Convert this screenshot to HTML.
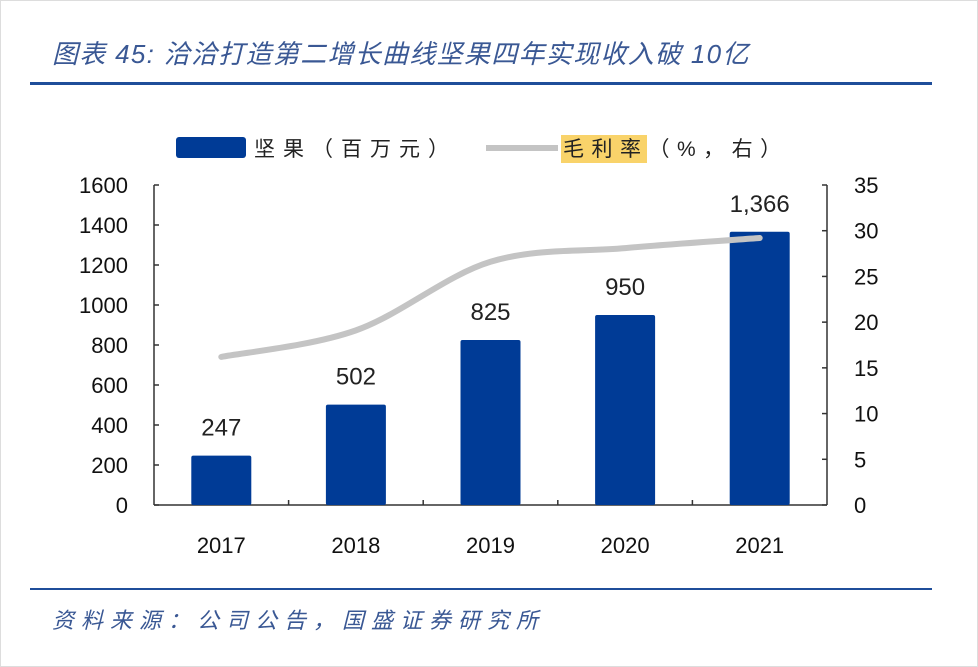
<!DOCTYPE html>
<html><head><meta charset="utf-8"><style>
body{margin:0;background:#fff;}
svg{display:block;font-family:"Liberation Sans","Noto Sans CJK SC",sans-serif;}
</style></head><body>
<svg width="978" height="667" viewBox="0 0 978 667">
<rect x="0.5" y="0.5" width="977" height="666" fill="#fff" stroke="#ddd"/>
<text x="52" y="63" font-size="26" letter-spacing="1.3" font-style="italic" fill="#3a5894">图表 45: 洽洽打造第二增长曲线坚果四年实现收入破 10亿</text>
<rect x="30" y="82" width="902" height="3" fill="#1f4e9a"/>
<g>
<rect x="176" y="137" width="70" height="21" rx="3" fill="#003b96"/>
<text x="254" y="156" font-size="21" letter-spacing="8" fill="#222">坚果（百万元）</text>
<rect x="486" y="145" width="72" height="6" fill="#c4c4c4"/>
<rect x="561" y="135" width="86" height="28" fill="#f9d36a"/>
<text x="563" y="156" font-size="21" letter-spacing="7.5" fill="#222">毛利率（%，右）</text>
</g>
<g id="plot"></g>
<rect x="30" y="588" width="902" height="2" fill="#1f4e9a"/>
<text x="52" y="628" font-size="22" letter-spacing="7" font-style="italic" fill="#3a5894">资料来源：公司公告，国盛证券研究所</text>
</svg>
<script>
const categories=["2017","2018","2019","2020","2021"];
const revenue=[247,502,825,950,1366];
const revenueLabels=["247","502","825","950","1,366"];
const margin=[16.2,19.1,26.6,28.1,29.2];
const leftTicks=[0,200,400,600,800,1000,1200,1400,1600];
const rightTicks=[0,5,10,15,20,25,30,35];
const NS="http://www.w3.org/2000/svg";
const g=document.getElementById('plot');
const X0=154,X1=827,Y0=505,Y1=185;
const yL=v=>Y0-(v/1600)*(Y0-Y1);
const yR=v=>Y0-(v/35)*(Y0-Y1);
const bw=(X1-X0)/categories.length;
const xC=i=>X0+bw*(i+0.5);
function mk(t,a,txt){const e=document.createElementNS(NS,t);for(const k in a)e.setAttribute(k,a[k]);if(txt!==undefined)e.textContent=txt;g.appendChild(e);return e;}
let e=mk('line',{x1:X0,y1:Y1,x2:X0,y2:Y0,stroke:'#333','stroke-width':1.5});

e=mk('line',{x1:X1,y1:Y1,x2:X1,y2:Y0,stroke:'#333','stroke-width':1.5});

e=mk('line',{x1:X0,y1:Y0,x2:X1,y2:Y0,stroke:'#333','stroke-width':1.5});

leftTicks.forEach(v=>{const y=yL(v);
 let t=mk('line',{x1:X0,y1:y,x2:X0+5,y2:y,stroke:'#333','stroke-width':1.5});
 
 t=mk('text',{x:X0-26,y:y+8,'font-size':22,'text-anchor':'end',fill:'#111'},String(v));
 });
rightTicks.forEach(v=>{const y=yR(v);
 let t=mk('line',{x1:X1-5,y1:y,x2:X1,y2:y,stroke:'#333','stroke-width':1.5});
 
 t=mk('text',{x:X1+27,y:y+8,'font-size':22,fill:'#111'},String(v));
 });
for(let i=1;i<categories.length;i++){let t=mk('line',{x1:X0+bw*i,y1:Y0,x2:X0+bw*i,y2:Y0-5,stroke:'#333','stroke-width':1.5});
 }
categories.forEach((c,i)=>{
 const y=yL(revenue[i]);
 let b=mk('rect',{x:xC(i)-30,y:y,width:60,height:Y0-y,rx:2,fill:'#003b96'});
 
 let t=mk('text',{x:xC(i),y:y-20,'font-size':24,'text-anchor':'middle',fill:'#222'},revenueLabels[i]);
 
 t=mk('text',{x:xC(i),y:553,'font-size':22,'text-anchor':'middle',fill:'#111'},c);
 
});
const pts=margin.map((v,i)=>[xC(i),yR(v)]);
let d='M'+pts[0][0]+','+pts[0][1];
for(let i=0;i<pts.length-1;i++){const p0=pts[Math.max(0,i-1)],p1=pts[i],p2=pts[i+1],p3=pts[Math.min(pts.length-1,i+2)];
 const c1=[p1[0]+(p2[0]-p0[0])/6,p1[1]+(p2[1]-p0[1])/6],c2=[p2[0]-(p3[0]-p1[0])/6,p2[1]-(p3[1]-p1[1])/6];
 d+=` C${c1[0]},${c1[1]} ${c2[0]},${c2[1]} ${p2[0]},${p2[1]}`;}
e=mk('path',{d:d,fill:'none',stroke:'#c4c4c4','stroke-width':6,'stroke-linecap':'round'});

</script>
</body></html>
